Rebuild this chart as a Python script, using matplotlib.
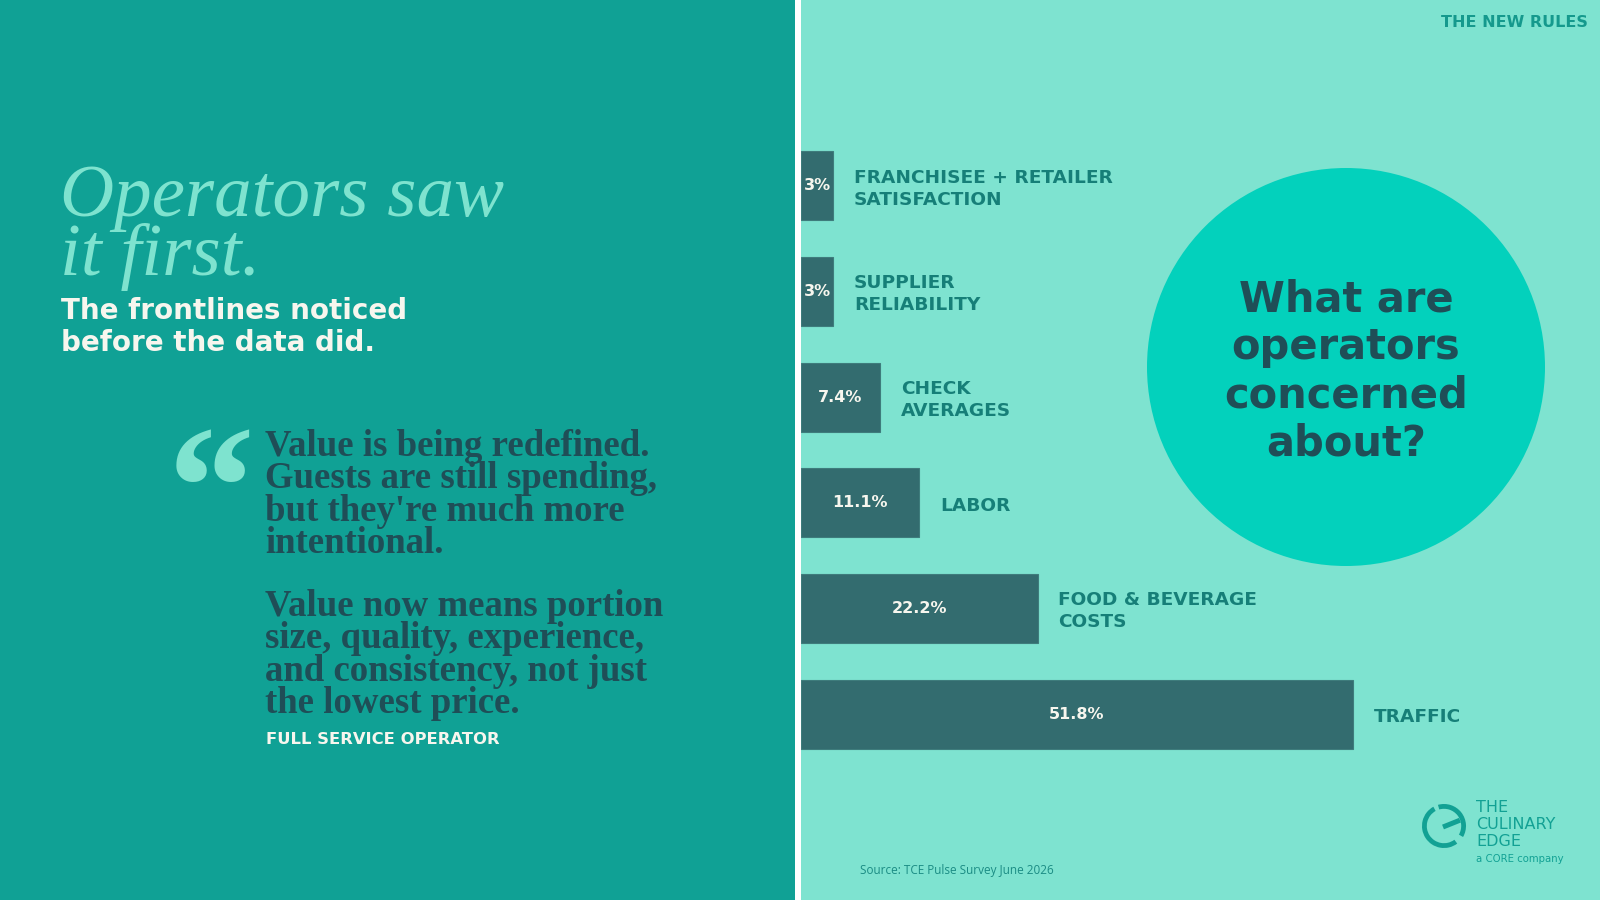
import matplotlib
matplotlib.use("Agg")
import matplotlib.pyplot as plt
from matplotlib.patches import Rectangle, Circle, Wedge
import numpy as np

# chart data
categories = ["FRANCHISEE + RETAILER\nSATISFACTION", "SUPPLIER\nRELIABILITY",
              "CHECK\nAVERAGES", "LABOR", "FOOD & BEVERAGE\nCOSTS", "TRAFFIC"]
values = [3, 3, 7.4, 11.1, 22.2, 51.8]
value_labels = ["3%", "3%", "7.4%", "11.1%", "22.2%", "51.8%"]

headline = ["Operators saw", "it first."]
subhead = ["The frontlines noticed", "before the data did."]
quote_1 = ["Value is being redefined.", "Guests are still spending,",
           "but they're much more", "intentional."]
quote_2 = ["Value now means portion", "size, quality, experience,",
           "and consistency, not just", "the lowest price."]
circle_title = ["What are", "operators", "concerned", "about?"]

# colours
LEFT_BG = "#10A195"
RIGHT_BG = "#7EE3D0"
BAR = "#336C6F"
CIRCLE = "#03D1BC"
DARK = "#1F4E57"
LABEL = "#167F78"
MINT = "#7EE3CF"
CREAM = "#F7F6EE"
LOGO = "#12A194"

fig = plt.figure(figsize=(16, 9), dpi=100)

# background canvas in pixel units (y pointing down)
bg = fig.add_axes([0, 0, 1, 1])
bg.set_xlim(0, 1600)
bg.set_ylim(900, 0)
bg.axis("off")
bg.add_patch(Rectangle((0, 0), 795, 900, color=LEFT_BG, lw=0))
bg.add_patch(Rectangle((795, 0), 6, 900, color="white", lw=0))
bg.add_patch(Rectangle((801, 0), 800, 900, color=RIGHT_BG, lw=0))
bg.add_patch(Circle((1346, 367), 199, color=CIRCLE, lw=0))

# left panel text
for i, line in enumerate(headline):
    bg.text(60, 216 + i * 59, line, family="Liberation Serif", style="italic",
            fontsize=54, color=MINT, va="baseline")
for i, line in enumerate(subhead):
    bg.text(61, 319 + i * 32, line, family="DejaVu Sans", weight="bold",
            fontsize=20, color=CREAM, va="baseline")

bg.text(168, 545, "\u201c", family="Liberation Serif", weight="bold",
        fontsize=125, color=MINT, va="baseline")
for i, line in enumerate(quote_1):
    bg.text(265, 456 + i * 32.3, line, family="Liberation Serif", weight="bold",
            fontsize=26.5, color=DARK, va="baseline")
for i, line in enumerate(quote_2):
    bg.text(265, 616 + i * 32.3, line, family="Liberation Serif", weight="bold",
            fontsize=26.5, color=DARK, va="baseline")
bg.text(266, 744, "FULL SERVICE OPERATOR", family="DejaVu Sans", weight="bold",
        fontsize=11.8, color=CREAM, va="baseline")

# right panel text
bg.text(1588, 27, "THE NEW RULES", family="DejaVu Sans", weight="bold",
        fontsize=11.5, color="#15998D", ha="right", va="baseline")
for i, line in enumerate(circle_title):
    bg.text(1346, 311 + i * 48.3, line, family="DejaVu Sans", weight="bold",
            fontsize=30, color=DARK, ha="center", va="baseline")
bg.text(860, 874, "Source: TCE Pulse Survey June 2026", family="Open Sans",
        fontsize=8.5, color="#1B8C84", va="baseline")

# logo: broken ring with a clock hand (angles given in the y-down canvas)
cx, cy, r = 1444, 826, 22
bg.add_patch(Wedge((cx, cy), r, 53, 241, width=4.8, color=LOGO, lw=0))
bg.add_patch(Wedge((cx, cy), r, -106, 30, width=4.8, color=LOGO, lw=0))
bg.plot([cx - 1, cx + 17 * np.cos(np.radians(20))], [cy + 1, cy - 17 * np.sin(np.radians(20))],
        color=LOGO, lw=3.6, solid_capstyle="butt")
for i, line in enumerate(["THE", "CULINARY", "EDGE"]):
    bg.text(1476, 812 + i * 17, line, family="DejaVu Sans", fontsize=11.5,
            color=LOGO, va="baseline")
bg.text(1476, 862, "a CORE company", family="DejaVu Sans", fontsize=7.3,
        color=LOGO, va="baseline")

# bar chart
ax = fig.add_axes([801 / 1600, (900 - 767) / 900, 799 / 1600, 634 / 900])
ax.set_facecolor("none")
y = np.arange(len(values))
ax.barh(y, values, height=0.655, color=BAR, edgecolor="#3E7C7C", lw=0.8)
ax.set_xlim(0, 75)
ax.set_ylim(5.5, -0.5)
ax.axis("off")
for yi, v, lab, cat in zip(y, values, value_labels, categories):
    ax.text(v / 2, yi, lab, ha="center", va="center", family="DejaVu Sans",
            weight="bold", fontsize=11.5, color=CREAM)
    ax.annotate(cat, (v, yi), xytext=(15, -2), textcoords="offset points",
                ha="left", va="center", family="DejaVu Sans", weight="bold",
                fontsize=13.3, color=LABEL, linespacing=1.3)

fig.savefig("out.png", dpi=100)
